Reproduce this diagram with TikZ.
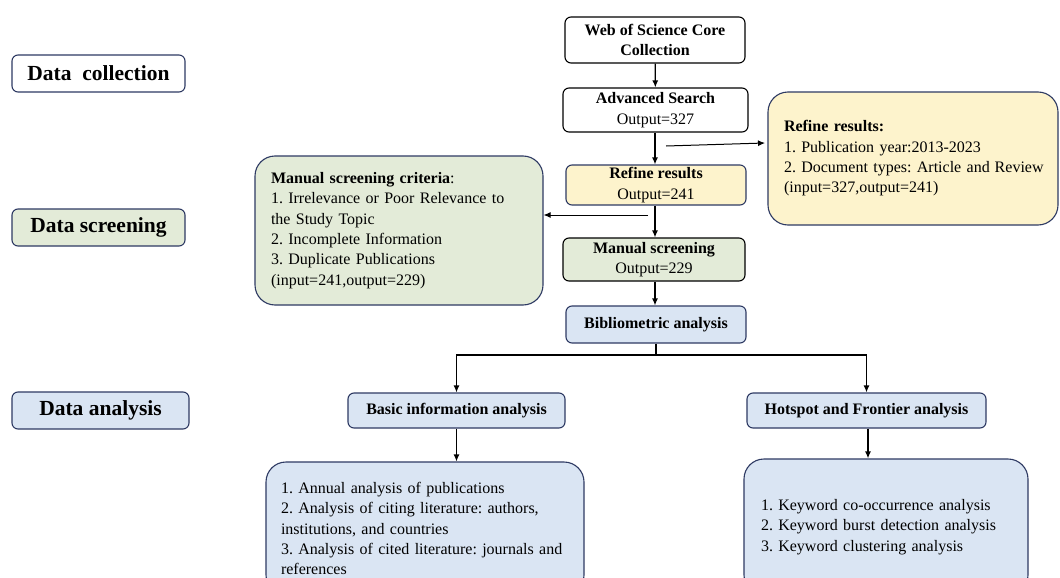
\documentclass[tikz,border=0pt]{standalone}
\usepackage{fontspec}
\setmainfont{Liberation Serif}
\usetikzlibrary{arrows.meta}
\hyphenpenalty=10000
\definecolor{navy}{HTML}{2E3A63}
\definecolor{gfill}{HTML}{E3EBD8}
\definecolor{bfill}{HTML}{DAE5F3}
\definecolor{yfill}{HTML}{FDF3CC}
\tikzset{
  base/.style={draw=navy, line width=1.1pt, rounded corners=6pt, inner sep=0pt, align=center,
    font=\fontsize{16}{20.5}\selectfont\frenchspacing},
  stagebox/.style={base, font=\fontsize{21.5}{24}\selectfont\bfseries},
  bigbox/.style={base, rounded corners=20pt, align=left, font=\fontsize{16}{20.3}\selectfont\frenchspacing},
  arr/.style={-{Latex[length=7pt,width=6pt]}, line width=1.3pt},
  ln/.style={line width=1.3pt}
}
\begin{document}
\begin{tikzpicture}[x=1pt,y=-1pt]
\clip (0,0) rectangle (1060,578);
\fill[white] (0,0) rectangle (1060,578);
% stages
\node[stagebox, fill=white, minimum width=173pt, minimum height=37pt] (dc) at (98.5,73.5) {Data\ \ collection};
\node[stagebox, fill=gfill, minimum width=173pt, minimum height=37pt] (ds) at (98.5,227.5) {Data screening};
\node[stagebox, fill=bfill, minimum width=177pt, minimum height=37pt] (da) at (100.5,410.5) {Data analysis};
% main flow
\node[base, draw=black, fill=white, minimum width=180pt, minimum height=46pt] (wos) at (655,40) {\textbf{Web of Science Core}\\\textbf{Collection}};
\node[base, draw=black, fill=white, minimum width=185pt, minimum height=44pt] (adv) at (655.5,110) {\textbf{Advanced Search}\\Output=327};
\node[base, fill=yfill, minimum width=180pt, minimum height=40pt] (ref) at (656,185) {\textbf{Refine results}\\Output=241};
\node[base, draw=black, fill=gfill, minimum width=182pt, minimum height=43pt] (man) at (654,259.5) {\textbf{Manual screening}\\Output=229};
\node[base, fill=bfill, minimum width=180pt, minimum height=37pt] (bib) at (656,324.5) {\textbf{Bibliometric analysis}};
\node[base, fill=bfill, minimum width=217pt, minimum height=35pt] (basic) at (456.5,410.5) {\textbf{Basic information analysis}};
\node[base, fill=bfill, minimum width=239pt, minimum height=35pt] (hot) at (866.5,410.5) {\textbf{Hotspot and Frontier analysis}};
% side boxes
\node[bigbox, fill=yfill, minimum width=290pt, minimum height=133pt, text width=258pt] (refbox) at (913,158.5)
 {\textbf{Refine results:}\\1. Publication year:2013-2023\\\mbox{2. Document types: Article and\hspace{5pt}Review}\\(input=327,output=241)};
\node[bigbox, fill=gfill, minimum width=288pt, minimum height=149pt, text width=256pt] (crit) at (399,230.5)
 {\textbf{Manual screening criteria}:\\1. Irrelevance or Poor Relevance to\\the Study Topic\\2. Incomplete Information\\3. Duplicate Publications\\(input=241,output=229)};
\node[bigbox, fill=bfill, minimum width=318pt, minimum height=133pt, text width=288pt] (bl) at (425,528.5)
 {1. Annual analysis of publications\\2. Analysis of citing literature: authors,\\institutions, and countries\\3. Analysis of cited literature: journals and\\references};
\node[bigbox, fill=bfill, minimum width=284pt, minimum height=136pt, text width=250pt] (br) at (886,527)
 {1. Keyword co-occurrence analysis\\2. Keyword burst detection analysis\\3. Keyword clustering analysis};
% connectors
\draw[arr] (wos) -- (adv);
\draw[arr] (adv.south -| 655,0) -- (ref.north -| 655,0);
\coordinate (rs) at (666,146);
\coordinate (re) at (765,143);
\draw[arr, line width=1pt] (rs) -- (re);
\draw[arr] (ref.south -| 655,0) -- (man.north -| 655,0);
\coordinate (ms) at (648,215);
\draw[arr, line width=1pt] (ms) -- (crit.east |- ms);
\draw[arr] (man.south -| 655,0) -- (bib.north -| 655,0);
\coordinate (j) at (656,355);
\draw[ln] (bib) -- (j);
\draw[arr] (j) -| (basic);
\draw[arr] (j) -| (hot);
\draw[arr] (basic) -- (basic.south |- bl.north);
\draw[arr] (hot.south -| 868,0) -- (868,0 |- br.north);
\end{tikzpicture}
\end{document}
